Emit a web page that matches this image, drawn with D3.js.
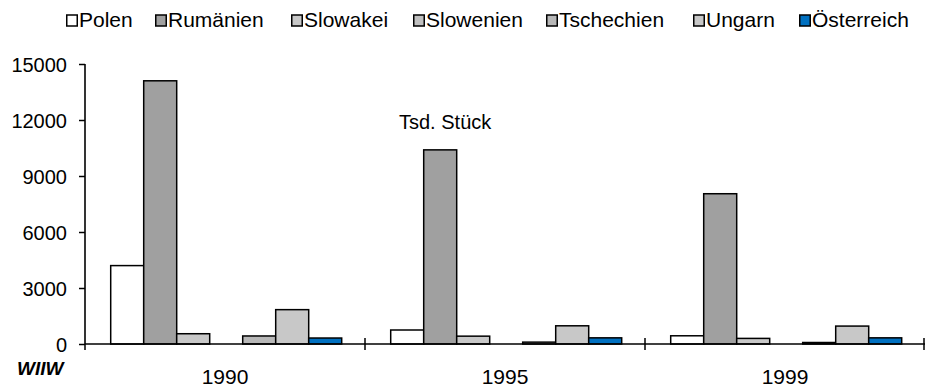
<!DOCTYPE html>
<html><head><meta charset="utf-8">
<script src="https://cdn.jsdelivr.net/npm/d3@7"></script>
<style>body{margin:0;background:#fff}svg{display:block}text{font-family:"Liberation Sans",Arial,sans-serif;fill:#000}</style>
</head><body><svg id="c" width="925" height="390"></svg>
<script>
const years = ["1990","1995","1999"];
const countries = ["Polen","Rumänien","Slowakei","Slowenien","Tschechien","Ungarn","Österreich"];
const polen = [4200, 750, 440];
const rumaenien = [14100, 10400, 8050];
const slowakei = [550, 420, 300];
const slowenien = [null, null, null];
const tschechien = [430, 100, 80];
const ungarn = [1840, 975, 960];
const oesterreich = [320, 330, 330];
const yTicks = [0, 3000, 6000, 9000, 12000, 15000];
const unitLabel = "Tsd. Stück";
const sourceLabel = "WIIW";

const seriesValues = [polen, rumaenien, slowakei, slowenien, tschechien, ungarn, oesterreich];
const colors = ["#ffffff","#a0a0a0","#c8c8c8","#c0c0c0","#b8b8b8","#c8c8c8","#0070c0"];
const legendX = [66, 155, 291, 413, 546, 693, 799];

const svg = d3.select("#c");
const x0 = d3.scaleBand().domain(years).range([85, 925]).paddingInner(0).paddingOuter(0);
const x1 = d3.scaleBand().domain(countries).range([25.7, 25.7 + 231]).padding(0);
const y = d3.scaleLinear().domain([0, 15000]).range([344, 64]);

// bars
years.forEach((yr, i) => {
  countries.forEach((c, j) => {
    const v = seriesValues[j][i];
    if (v == null) return;
    svg.append("rect")
      .attr("x", x0(yr) + x1(c))
      .attr("y", y(v))
      .attr("width", x1.bandwidth())
      .attr("height", y(0) - y(v))
      .attr("fill", colors[j])
      .attr("stroke", "#000")
      .attr("stroke-width", 1.5);
  });
});

// y axis
const yAxis = svg.append("g").attr("transform", "translate(85,0)")
  .call(d3.axisLeft(y).tickValues(yTicks).tickSize(6).tickPadding(12).tickFormat(d3.format("d")));
yAxis.select(".domain").attr("stroke", "#000").attr("stroke-width", 1.6).attr("d", "M0,64V344");
yAxis.selectAll(".tick line").attr("stroke", "#000").attr("stroke-width", 1.5);
yAxis.selectAll(".tick text").attr("font-size", 20).attr("font-family", '"Liberation Sans",Arial,sans-serif').attr("fill", "#000").attr("dy", "0.35em");

// x axis line
svg.append("line").attr("x1", 85).attr("x2", 925).attr("y1", y(0)).attr("y2", y(0))
  .attr("stroke", "#000").attr("stroke-width", 1.6);
// category boundary ticks
const bounds = years.map(yr => x0(yr)).concat([x0.range()[1] - 1]);
bounds.forEach((bx, i) => {
  svg.append("line").attr("x1", bx).attr("x2", bx)
    .attr("y1", i === 0 ? y(0) : y(0) - 6).attr("y2", y(0) + 6)
    .attr("stroke", "#000").attr("stroke-width", 1.5);
});
// x labels
years.forEach(yr => {
  svg.append("text").attr("x", x0(yr) + x0.bandwidth() / 2).attr("y", 384)
    .attr("text-anchor", "middle").attr("font-size", 21).text(yr);
});

// unit label
svg.append("text").attr("x", 399).attr("y", 129).attr("font-size", 20).text(unitLabel);
// source
svg.append("text").attr("x", 17).attr("y", 375).attr("font-size", 19)
  .attr("font-weight", "bold").attr("font-style", "italic").text(sourceLabel);

// legend
countries.forEach((c, j) => {
  const g = svg.append("g").attr("transform", `translate(${legendX[j]},0)`);
  g.append("rect").attr("x", 0.75).attr("y", 15).attr("width", 10.5).attr("height", 11)
    .attr("fill", colors[j]).attr("stroke", "#000").attr("stroke-width", 1.5);
  g.append("text").attr("x", 13).attr("y", 27).attr("font-size", 21).text(c);
});
</script></body></html>
